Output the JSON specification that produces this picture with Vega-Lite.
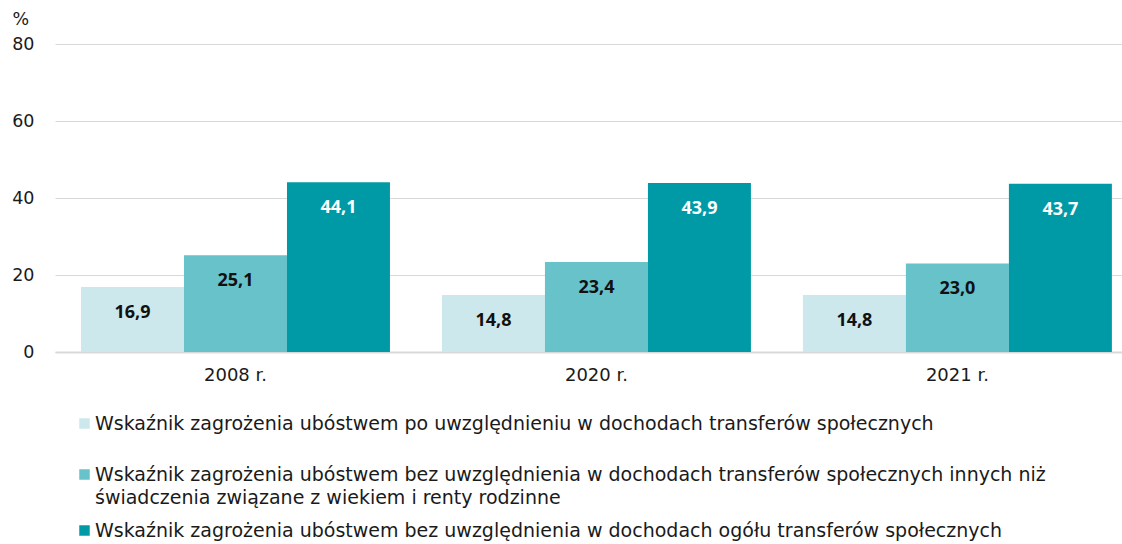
{
  "$schema": "https://vega.github.io/schema/vega-lite/v6.json",
  "width": 1067,
  "height": 308,
  "autosize": {"type": "none"},
  "padding": {"left": 55, "top": 44, "right": 0, "bottom": 192},
  "background": "white",
  "config": {
    "font": "DejaVu Sans",
    "view": {"stroke": null},
    "locale": {"number": {"decimal": ",", "thousands": " ", "grouping": [3], "currency": ["", " zł"]}}
  },
  "data": {
    "values": [
      {"rok": "2008 r.", "series": "Wskaźnik zagrożenia ubóstwem po uwzględnieniu w dochodach transferów społecznych", "value": 16.9},
      {"rok": "2008 r.", "series": "Wskaźnik zagrożenia ubóstwem bez uwzględnienia w dochodach transferów społecznych innych niż\nświadczenia związane z wiekiem i renty rodzinne", "value": 25.1},
      {"rok": "2008 r.", "series": "Wskaźnik zagrożenia ubóstwem bez uwzględnienia w dochodach ogółu  transferów społecznych", "value": 44.1},
      {"rok": "2020 r.", "series": "Wskaźnik zagrożenia ubóstwem po uwzględnieniu w dochodach transferów społecznych", "value": 14.8},
      {"rok": "2020 r.", "series": "Wskaźnik zagrożenia ubóstwem bez uwzględnienia w dochodach transferów społecznych innych niż\nświadczenia związane z wiekiem i renty rodzinne", "value": 23.4},
      {"rok": "2020 r.", "series": "Wskaźnik zagrożenia ubóstwem bez uwzględnienia w dochodach ogółu  transferów społecznych", "value": 43.9},
      {"rok": "2021 r.", "series": "Wskaźnik zagrożenia ubóstwem po uwzględnieniu w dochodach transferów społecznych", "value": 14.8},
      {"rok": "2021 r.", "series": "Wskaźnik zagrożenia ubóstwem bez uwzględnienia w dochodach transferów społecznych innych niż\nświadczenia związane z wiekiem i renty rodzinne", "value": 23.0},
      {"rok": "2021 r.", "series": "Wskaźnik zagrożenia ubóstwem bez uwzględnienia w dochodach ogółu  transferów społecznych", "value": 43.7}
    ]
  },
  "encoding": {
    "x": {
      "field": "rok", "type": "nominal", "title": null,
      "scale": {"paddingInner": 0.144, "paddingOuter": 0.05, "align": 0.72},
      "axis": {"labelAngle": 0, "labelFontSize": 18, "labelColor": "#1a1a1a", "labelPadding": 14, "ticks": false, "domainColor": "#d9d9d9", "domainWidth": 2, "grid": false}
    },
    "xOffset": {
      "field": "series", "type": "nominal",
      "sort": ["Wskaźnik zagrożenia ubóstwem po uwzględnieniu w dochodach transferów społecznych", "Wskaźnik zagrożenia ubóstwem bez uwzględnienia w dochodach transferów społecznych innych niż\nświadczenia związane z wiekiem i renty rodzinne", "Wskaźnik zagrożenia ubóstwem bez uwzględnienia w dochodach ogółu  transferów społecznych"],
      "scale": {"paddingInner": 0, "paddingOuter": 0}
    },
    "y": {
      "field": "value", "type": "quantitative", "title": "%",
      "scale": {"domain": [0, 80]},
      "axis": {"values": [0, 20, 40, 60, 80], "labelFontSize": 17.5, "labelColor": "#1a1a1a", "labelPadding": 21, "ticks": false, "domain": false, "gridColor": "#d9d9d9", "gridWidth": 1,
        "titleAngle": 0, "titleAlign": "left", "titleBaseline": "middle", "titleX": -43, "titleY": -25, "titleFontSize": 17.5, "titleFontWeight": "normal", "titleColor": "#1a1a1a"}
    }
  },
  "layer": [
    {
      "mark": {"type": "bar"},
      "encoding": {
        "color": {
          "field": "series", "type": "nominal",
          "scale": {
            "domain": ["Wskaźnik zagrożenia ubóstwem po uwzględnieniu w dochodach transferów społecznych", "Wskaźnik zagrożenia ubóstwem bez uwzględnienia w dochodach transferów społecznych innych niż\nświadczenia związane z wiekiem i renty rodzinne", "Wskaźnik zagrożenia ubóstwem bez uwzględnienia w dochodach ogółu  transferów społecznych"],
            "range": ["#cde8ec", "#67c2c9", "#009aa6"]
          },
          "legend": {
            "title": null, "orient": "none", "legendX": 20, "legendY": 370, "direction": "vertical",
            "symbolType": "square", "symbolSize": 110, "symbolStrokeWidth": 0, "symbolOpacity": 1,
            "labelFontSize": 19, "labelColor": "#1a1a1a", "labelOffset": 1, "labelLimit": 1100, "labelBaseline": "alphabetic",
            "rowPadding": 13, "padding": 0,
            "labelExpr": "datum.index == 0 ? [datum.label, ''] : split(datum.label, '\\n')",
            "encode": {"labels": {"update": {"dy": {"value": 6}, "lineHeight": {"signal": "datum.index == 0 ? 18 : 23"}}}}
          }
        }
      }
    },
    {
      "mark": {"type": "text", "font": "Noto Sans", "fontSize": 18, "fontWeight": "bold", "baseline": "middle", "dy": 26},
      "encoding": {
        "text": {"field": "value", "type": "quantitative", "format": ".1f"},
        "color": {
          "condition": {"test": "datum.value > 40", "value": "white"},
          "value": "#111111"
        }
      }
    }
  ]
}
